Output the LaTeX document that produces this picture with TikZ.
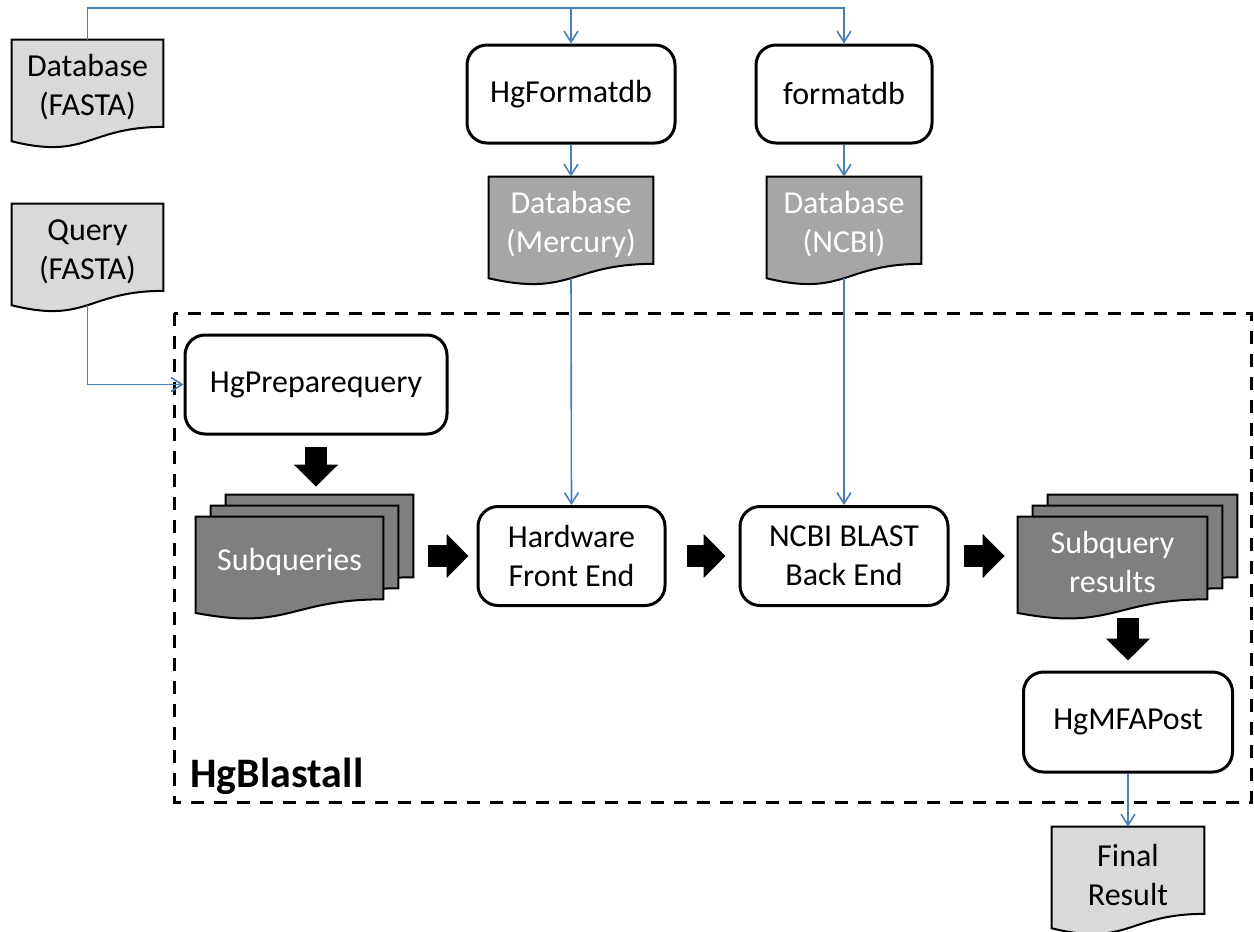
\documentclass[tikz,border=0pt]{standalone}
\usepackage{fontspec}
\setmainfont{Carlito}
\usetikzlibrary{arrows.meta,calc,backgrounds}
\definecolor{flowblue}{RGB}{74,126,187}
\definecolor{docltgray}{RGB}{217,217,217}
\definecolor{docmdgray}{RGB}{166,166,166}
\definecolor{docdkgray}{RGB}{127,127,127}
\tikzset{
  procbox/.style={draw, line width=1.5pt, rounded corners=10pt, fill=white, align=center, inner sep=0pt},
  docbox/.style={inner sep=0pt, align=center},
  flow/.style={draw=flowblue, line width=0.8pt, -{Straight Barb[length=5.5pt,width=7pt]}},
  bigarrow/.style={line width=11pt, -{Triangle[length=11pt,width=21.5pt]}},
  groupbox/.style={line width=1.5pt, dash pattern=on 6.5pt off 5pt},
}
% document sheet with a wavy lower edge, drawn round a node
\newcommand{\docshape}[3][(0,0)]{%
  \filldraw[draw=black, line width=1pt, fill=#3]
    ([shift={#1}]#2.north west) -- ([shift={#1}]#2.north east)
    -- ($([shift={#1}]#2.north east)!0.911!([shift={#1}]#2.south east)$)
    .. controls ($([shift={#1}]#2.north)!0.911!([shift={#1}]#2.south)$)
    and ($([shift={#1}]#2.north)!1.259!([shift={#1}]#2.south)$)
    .. ($([shift={#1}]#2.north west)!1.061!([shift={#1}]#2.south west)$) -- cycle;}

\begin{document}
\begin{tikzpicture}[x=0.5pt, y=-0.5pt, font=\fontsize{16}{19.5}\selectfont]
  \useasboundingbox (0,0) rectangle (1254,932);

  % programs
  \node[procbox, minimum width=104pt, minimum height=49pt] (fmt) at (571,94) {HgFormatdb};
  \node[procbox, minimum width=88pt, minimum height=49pt] (fdb) at (844,94) {formatdb};
  \node[procbox, minimum width=131pt, minimum height=49.5pt] (prep) at (316,384.5) {HgPreparequery};
  \node[procbox, minimum width=93.5pt, minimum height=49.5pt] (hw) at (571.5,556) {Hardware\\Front End};
  \node[procbox, minimum width=104pt, minimum height=49.5pt] (blast) at (844,556) {NCBI BLAST\\Back End};
  \node[procbox, minimum width=104.5pt, minimum height=50pt] (post) at (1128,722) {HgMFAPost};

  % files
  \node[docbox, minimum width=75.5pt, minimum height=47.5pt] (dbf) at (87.5,87.5) {Database\\(FASTA)};
  \node[docbox, minimum width=75.5pt, minimum height=47.5pt] (qf) at (87.5,251.5) {Query\\(FASTA)};
  \node[docbox, text=white, minimum width=82pt, minimum height=47.5pt] (dbm) at (571,224.5) {Database\\(Mercury)};
  \node[docbox, text=white, minimum width=77pt, minimum height=47.5pt] (dbn) at (844,224.5) {Database\\(NCBI)};
  \node[docbox, text=white, minimum width=93.5pt, minimum height=45pt] (sq) at (289.5,562) {Subqueries};
  \node[docbox, text=white, minimum width=94.5pt, minimum height=45pt] (res) at (1112.5,562) {Subquery\\results};
  \node[docbox, minimum width=76pt, minimum height=47.5pt] (final) at (1128,874.5) {Final\\Result};

  \begin{scope}[on background layer]
    \docshape{dbf}{docltgray}
    \docshape{qf}{docltgray}
    \docshape{dbm}{docmdgray}
    \docshape{dbn}{docmdgray}
    \docshape[(30,-22)]{sq}{docdkgray}
    \docshape[(15,-11)]{sq}{docdkgray}
    \docshape{sq}{docdkgray}
    \docshape[(30,-22)]{res}{docdkgray}
    \docshape[(15,-11)]{res}{docdkgray}
    \docshape{res}{docdkgray}
    \docshape{final}{docltgray}
  \end{scope}

  % HgBlastall group
  \draw[groupbox] (174,313) rectangle (1251,802);
  \node[anchor=base west, inner sep=0pt, font=\fontsize{21}{25}\selectfont\bfseries] (grp) at (190,787) {HgBlastall};

  % data flow
  \coordinate (bus) at (844,8);
  \draw[flow] (dbf.north) |- (bus) -- (fdb.north);
  \draw[flow] (fmt.north |- bus) -- (fmt.north);
  \draw[flow] (fmt.south) -- (dbm.north);
  \draw[flow] (fdb.south) -- (dbn.north);
  \draw[flow, shorten <=3pt] (dbm.south) -- (hw.north);
  \draw[flow, shorten <=3pt] (dbn.south) -- (blast.north);
  \draw[flow, shorten <=3pt] (qf.south) |- (prep.west);
  \draw[flow] (post.south) -- (final.north);

  % processing steps
  \draw[bigarrow, shorten <=5.5pt, shorten >=15pt] (prep.south) -- (prep.south |- sq.north);
  \draw[bigarrow, shorten <=22.5pt, shorten >=4pt] (sq.east |- hw.west) -- (hw.west);
  \draw[bigarrow, shorten <=10pt, shorten >=6.5pt] (hw.east) -- (blast.west);
  \draw[bigarrow, shorten <=7pt, shorten >=6.5pt] (blast.east) -- (blast.east -| res.west);
  \draw[bigarrow, shorten <=5.5pt, shorten >=5pt] (post.north |- res.south) -- (post.north);
\end{tikzpicture}
\end{document}
